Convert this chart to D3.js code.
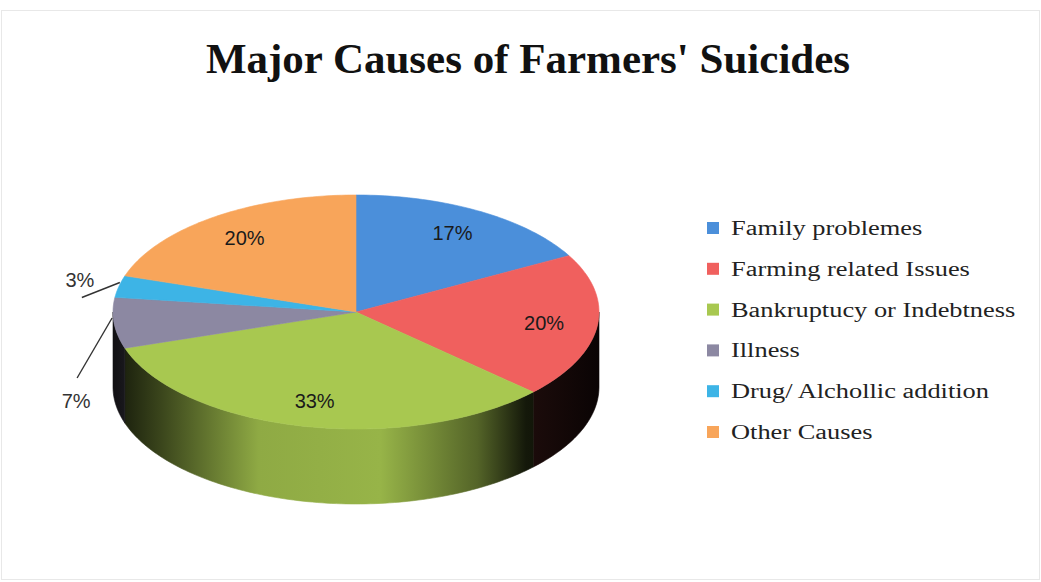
<!DOCTYPE html>
<html><head><meta charset="utf-8">
<script src="https://cdn.jsdelivr.net/npm/d3@7"></script>
<style>body{margin:0;background:#fff}</style>
</head><body>
<script>
var categories = ['Family problemes','Farming related Issues','Bankruptucy or Indebtness','Illness','Drug/ Alchollic addition','Other Causes'];
var values = [17, 20, 33, 7, 3, 20];
var colors = ['#4b8fda','#f0605e','#a8c850','#8c88a2','#3db4e6','#f8a55a'];
var pctLabels = ['17%','20%','33%','7%','3%','20%'];

var width = 1041, height = 582;
var svg = d3.select('body').append('svg').attr('width', width).attr('height', height);
svg.append('rect').attr('width', width).attr('height', height).attr('fill', '#fff');
svg.append('rect').attr('x', 1.5).attr('y', 10.5).attr('width', width - 3).attr('height', height - 13)
    .attr('fill', 'none').attr('stroke', '#e8e8e8');

svg.append('text').text("Major Causes of Farmers' Suicides")
    .attr('x', 528).attr('y', 73).attr('text-anchor', 'middle')
    .style('font-family', '"Liberation Serif", serif').style('font-weight', 'bold')
    .style('font-size', '43px').attr('fill', '#111');

// 3d pie geometry
var cx = 356, cy = 312, rx = 243, ry = 117, depth = 75;
var pie = d3.pie().sort(null).value(function(d){ return d; })(values);

function pt(a, f, dz){
	return [cx + rx * f * Math.sin(a), cy - ry * f * Math.cos(a) + (dz || 0)];
}
function arcPts(a0, a1, dz){
	var n = Math.max(2, Math.ceil((a1 - a0) / 0.02)), p = [];
	for (var i = 0; i <= n; i++) p.push(pt(a0 + (a1 - a0) * i / n, 1, dz));
	return p;
}
var line = d3.line();

var defs = svg.append('defs');
var shade = [[0, 0.12], [0.1, 0.35], [0.3, 0.85], [0.55, 0.9], [0.75, 0.5], [0.85, 0.12], [1, 0.04]];
colors.forEach(function(c, i){
	var g = defs.append('linearGradient').attr('id', 'wall' + i)
		.attr('gradientUnits', 'userSpaceOnUse')
		.attr('x1', cx - rx).attr('x2', cx + rx).attr('y1', 0).attr('y2', 0);
	shade.forEach(function(s){
		g.append('stop').attr('offset', s[0]).attr('stop-color', d3.interpolateRgb('#000', c)(s[1]));
	});
});

// outer walls (front half only)
var walls = svg.append('g');
pie.forEach(function(d, i){
	var a0 = Math.max(d.startAngle, Math.PI / 2), a1 = Math.min(d.endAngle, 3 * Math.PI / 2);
	if (a1 <= a0) return;
	var top = arcPts(a0, a1, 0), bot = arcPts(a0, a1, depth).reverse();
	walls.append('path').attr('d', line(top.concat(bot)) + 'Z')
		.attr('fill', 'url(#wall' + i + ')').attr('stroke', 'url(#wall' + i + ')').attr('stroke-width', 0.6);
});

// top faces
var tops = svg.append('g');
pie.forEach(function(d, i){
	var p = [[cx, cy]].concat(arcPts(d.startAngle, d.endAngle, 0));
	tops.append('path').attr('d', line(p) + 'Z')
		.attr('fill', colors[i]).attr('stroke', colors[i]).attr('stroke-width', 0.6);
});

// labels
var lab = svg.append('g').style('font-family', '"Liberation Sans", Arial, sans-serif').style('font-size', '20px');
pie.forEach(function(d, i){
	var m = (d.startAngle + d.endAngle) / 2;
	if (d.value >= 10) {
		var p = pt(m, 0.78, 0);
		lab.append('text').text(pctLabels[i]).attr('x', p[0]).attr('y', p[1] + 7)
			.attr('text-anchor', 'middle').attr('fill', '#1a1a1a');
	} else {
		// small slices get a leader line to an outside label
		var e = pt(m, 1, 0), s, t, tp;
		if (d.value > 5) { s = [e[0] - 2, e[1] - 5]; t = [e[0] - 37, e[1] + 55]; tp = [e[0] - 38, e[1] + 85]; }
		else { s = [e[0] + 1, e[1] - 4]; t = [e[0] - 37, e[1] + 11]; tp = [e[0] - 39, e[1] + 1]; }
		lab.append('path').attr('d', line([s, t])).attr('stroke', '#333').attr('stroke-width', 1.4).attr('fill', 'none');
		lab.append('text').text(pctLabels[i]).attr('x', tp[0]).attr('y', tp[1])
			.attr('text-anchor', 'middle').attr('fill', '#333');
	}
});

// legend (text in the source is stretched horizontally)
var ly = d3.scaleLinear().domain([0, categories.length - 1]).range([228, 432]);
var leg = svg.append('g').style('font-family', '"Liberation Serif", serif').style('font-size', '20px');
categories.forEach(function(c, i){
	leg.append('rect').attr('x', 707).attr('y', ly(i) - 6).attr('width', 12).attr('height', 12).attr('fill', colors[i]);
	leg.append('text').text(c).attr('transform', 'translate(731,' + (ly(i) + 7) + ') scale(1.32,1)')
		.attr('fill', '#222');
});
</script>
</body></html>
